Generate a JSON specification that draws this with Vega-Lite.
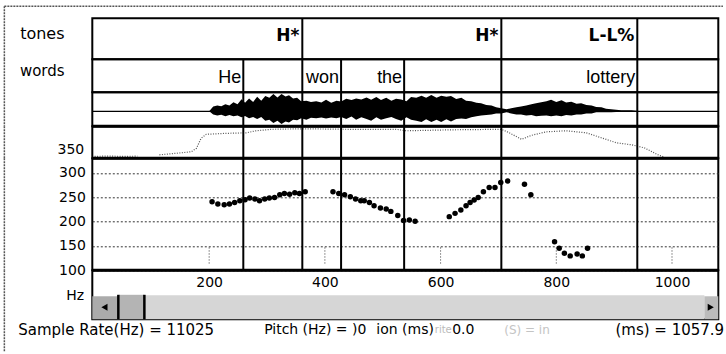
{
  "$schema": "https://vega.github.io/schema/vega-lite/v6.json",
  "autosize": {"type": "pad"},
  "padding": {"left": 2.3, "top": 4.3, "right": 0, "bottom": 0},
  "background": "white",
  "spacing": 0,
  "bounds": "flush",
  "config": {"view": {"stroke": "black", "strokeWidth": 2}},
  "datasets": {
    "tones": [{"t": 361, "label": "H*"}, {"t": 705, "label": "H*"}, {"t": 940, "label": "L-L%"}],
    "words": [{"t": 259, "label": "He"}, {"t": 361, "label": ""}, {"t": 428, "label": "won"}, {"t": 537, "label": "the"}, {"t": 705, "label": ""}, {"t": 940, "label": "lottery"}],
    "ticks": [{"t": 200}, {"t": 400}, {"t": 600}, {"t": 800}, {"t": 1000}],
    "pitch": [
      {"t": 205, "f0": 240.8}, {"t": 215, "f0": 236.1}, {"t": 226, "f0": 234.7}, {"t": 235, "f0": 236.1}, {"t": 244, "f0": 239.3}, {"t": 253, "f0": 242.8}, {"t": 262, "f0": 244.8}, {"t": 270, "f0": 248.3}, {"t": 279, "f0": 246.3}, {"t": 287, "f0": 242.8}, {"t": 296, "f0": 246.3}, {"t": 304, "f0": 248.3}, {"t": 313, "f0": 249.5}, {"t": 322, "f0": 255}, {"t": 330, "f0": 257.7}, {"t": 339, "f0": 256.4}, {"t": 348, "f0": 259.1}, {"t": 356, "f0": 257.7}, {"t": 366, "f0": 261.1},
      {"t": 414, "f0": 261.1}, {"t": 424, "f0": 257.7}, {"t": 434, "f0": 255}, {"t": 444, "f0": 251}, {"t": 453, "f0": 246.3}, {"t": 462, "f0": 242.8}, {"t": 468, "f0": 242.8}, {"t": 477, "f0": 239.3}, {"t": 485, "f0": 232.6}, {"t": 496, "f0": 228}, {"t": 506, "f0": 225.9}, {"t": 514, "f0": 221}, {"t": 526, "f0": 212.3}, {"t": 536, "f0": 202.1}, {"t": 546, "f0": 203.5}, {"t": 556, "f0": 200.7},
      {"t": 615, "f0": 210.2}, {"t": 625, "f0": 216.9}, {"t": 635, "f0": 223.9}, {"t": 644, "f0": 232.6}, {"t": 651, "f0": 239.3}, {"t": 658, "f0": 244.2}, {"t": 665, "f0": 249.5}, {"t": 674, "f0": 261.1}, {"t": 684, "f0": 269.9}, {"t": 694, "f0": 269.9}, {"t": 704, "f0": 280.1}, {"t": 716, "f0": 283.5}, {"t": 745, "f0": 276.8}, {"t": 756, "f0": 255},
      {"t": 797, "f0": 158.8}, {"t": 805, "f0": 145.3}, {"t": 814, "f0": 135.1}, {"t": 824, "f0": 129.6}, {"t": 836, "f0": 133.7}, {"t": 845, "f0": 129.6}, {"t": 854, "f0": 145.3}
    ],
    "intensity": [
      {"t": 2, "db": 33, "seg": "a"}, {"t": 25, "db": 33.5, "seg": "a"}, {"t": 50, "db": 33, "seg": "a"}, {"t": 76, "db": 33.3, "seg": "a"},
      {"t": 114, "db": 35.5, "seg": "b"}, {"t": 143, "db": 37.8, "seg": "b"}, {"t": 169, "db": 40.2, "seg": "b"}, {"t": 178, "db": 45.6, "seg": "b"}, {"t": 186, "db": 61.3, "seg": "b"}, {"t": 195, "db": 67.5, "seg": "b"}, {"t": 230, "db": 69, "seg": "b"}, {"t": 264, "db": 69.8, "seg": "b"}, {"t": 281, "db": 73, "seg": "b"}, {"t": 307, "db": 75.3, "seg": "b"}, {"t": 359, "db": 76.1, "seg": "b"}, {"t": 446, "db": 75.3, "seg": "b"}, {"t": 523, "db": 75.3, "seg": "b"}, {"t": 541, "db": 73, "seg": "b"}, {"t": 619, "db": 74.5, "seg": "b"}, {"t": 705, "db": 75.3, "seg": "b"}, {"t": 717, "db": 70.6, "seg": "b"}, {"t": 740, "db": 59.7, "seg": "b"}, {"t": 757, "db": 65.9, "seg": "b"}, {"t": 783, "db": 71.4, "seg": "b"}, {"t": 817, "db": 73, "seg": "b"}, {"t": 852, "db": 69.8, "seg": "b"}, {"t": 878, "db": 62, "seg": "b"}, {"t": 904, "db": 54.2, "seg": "b"}, {"t": 930, "db": 51.1, "seg": "b"}, {"t": 952, "db": 46.4, "seg": "b"}, {"t": 964, "db": 40.9, "seg": "b"}, {"t": 975, "db": 35.8, "seg": "b"}, {"t": 985, "db": 32.3, "seg": "b"}
    ],
    "wave": [
      {"t": 200, "hi": 0, "lo": 0}, {"t": 207, "hi": 0.29, "lo": -0.18}, {"t": 214, "hi": 0.35, "lo": -0.24}, {"t": 221, "hi": 0.3, "lo": -0.2}, {"t": 228, "hi": 0.41, "lo": -0.29}, {"t": 235, "hi": 0.35, "lo": -0.22}, {"t": 242, "hi": 0.53, "lo": -0.29}, {"t": 249, "hi": 0.41, "lo": -0.24}, {"t": 256, "hi": 0.71, "lo": -0.35}, {"t": 262, "hi": 0.5, "lo": -0.27}, {"t": 269, "hi": 0.76, "lo": -0.41}, {"t": 276, "hi": 0.55, "lo": -0.33}, {"t": 283, "hi": 0.86, "lo": -0.45}, {"t": 290, "hi": 0.62, "lo": -0.33}, {"t": 297, "hi": 0.9, "lo": -0.55}, {"t": 304, "hi": 0.8, "lo": -0.5}, {"t": 311, "hi": 1.02, "lo": -0.68}, {"t": 318, "hi": 0.82, "lo": -0.55}, {"t": 325, "hi": 1.02, "lo": -0.74}, {"t": 332, "hi": 0.88, "lo": -0.6}, {"t": 338, "hi": 0.94, "lo": -0.66}, {"t": 345, "hi": 0.76, "lo": -0.5}, {"t": 352, "hi": 0.8, "lo": -0.52}, {"t": 359, "hi": 0.6, "lo": -0.4}, {"t": 368, "hi": 0.62, "lo": -0.5}, {"t": 376, "hi": 0.55, "lo": -0.38}, {"t": 385, "hi": 0.6, "lo": -0.4}, {"t": 394, "hi": 0.52, "lo": -0.36}, {"t": 402, "hi": 0.68, "lo": -0.42}, {"t": 411, "hi": 0.5, "lo": -0.36}, {"t": 420, "hi": 0.62, "lo": -0.4}, {"t": 428, "hi": 0.58, "lo": -0.33}, {"t": 437, "hi": 0.74, "lo": -0.45}, {"t": 446, "hi": 0.66, "lo": -0.3}, {"t": 454, "hi": 0.76, "lo": -0.5}, {"t": 463, "hi": 0.7, "lo": -0.35}, {"t": 472, "hi": 0.82, "lo": -0.45}, {"t": 480, "hi": 0.68, "lo": -0.55}, {"t": 489, "hi": 0.84, "lo": -0.35}, {"t": 497, "hi": 0.66, "lo": -0.5}, {"t": 506, "hi": 0.8, "lo": -0.4}, {"t": 515, "hi": 0.62, "lo": -0.34}, {"t": 523, "hi": 0.74, "lo": -0.45}, {"t": 532, "hi": 0.7, "lo": -0.55}, {"t": 541, "hi": 0.6, "lo": -0.35}, {"t": 549, "hi": 0.85, "lo": -0.5}, {"t": 558, "hi": 0.8, "lo": -0.55}, {"t": 567, "hi": 0.92, "lo": -0.62}, {"t": 575, "hi": 0.8, "lo": -0.47}, {"t": 584, "hi": 0.96, "lo": -0.62}, {"t": 593, "hi": 0.8, "lo": -0.5}, {"t": 601, "hi": 0.92, "lo": -0.62}, {"t": 610, "hi": 0.86, "lo": -0.47}, {"t": 618, "hi": 0.9, "lo": -0.6}, {"t": 627, "hi": 0.72, "lo": -0.45}, {"t": 636, "hi": 0.8, "lo": -0.42}, {"t": 644, "hi": 0.62, "lo": -0.45}, {"t": 653, "hi": 0.6, "lo": -0.35}, {"t": 662, "hi": 0.5, "lo": -0.29}, {"t": 670, "hi": 0.47, "lo": -0.24}, {"t": 679, "hi": 0.38, "lo": -0.22}, {"t": 688, "hi": 0.35, "lo": -0.18}, {"t": 696, "hi": 0.24, "lo": -0.12}, {"t": 705, "hi": 0.18, "lo": -0.12}, {"t": 714, "hi": 0.12, "lo": -0.06}, {"t": 722, "hi": 0.18, "lo": -0.12}, {"t": 731, "hi": 0.24, "lo": -0.18}, {"t": 739, "hi": 0.29, "lo": -0.18}, {"t": 748, "hi": 0.35, "lo": -0.24}, {"t": 757, "hi": 0.41, "lo": -0.22}, {"t": 765, "hi": 0.47, "lo": -0.29}, {"t": 774, "hi": 0.53, "lo": -0.26}, {"t": 783, "hi": 0.59, "lo": -0.24}, {"t": 791, "hi": 0.68, "lo": -0.29}, {"t": 800, "hi": 0.55, "lo": -0.24}, {"t": 809, "hi": 0.65, "lo": -0.29}, {"t": 817, "hi": 0.52, "lo": -0.22}, {"t": 826, "hi": 0.56, "lo": -0.24}, {"t": 835, "hi": 0.45, "lo": -0.18}, {"t": 843, "hi": 0.47, "lo": -0.18}, {"t": 852, "hi": 0.38, "lo": -0.12}, {"t": 861, "hi": 0.35, "lo": -0.12}, {"t": 869, "hi": 0.26, "lo": -0.06}, {"t": 878, "hi": 0.24, "lo": -0.06}, {"t": 886, "hi": 0.15, "lo": -0.06}, {"t": 895, "hi": 0.12, "lo": -0.06}, {"t": 912, "hi": 0.06, "lo": -0.03}, {"t": 930, "hi": 0.06, "lo": -0.03}, {"t": 947, "hi": 0, "lo": 0}
    ]
  },
  "vconcat": [
    {
      "width": 626, "height": 41,
      "layer": [
        {"data": {"values": [{}]}, "mark": {"type": "rule", "color": "#555", "strokeWidth": 1.5, "strokeDash": [2, 1]},
         "encoding": {"x": {"datum": -154, "type": "quantitative", "scale": {"domain": [-2, 1080], "nice": false, "zero": false}, "axis": null},
                      "y": {"datum": 0, "type": "quantitative", "scale": {"domain": [0, 1], "nice": false, "zero": false}, "axis": null}, "y2": {"datum": 1.293}}},
        {"data": {"values": [{}]}, "mark": {"type": "rule", "color": "#555", "strokeWidth": 1.5, "strokeDash": [2, 1]},
         "encoding": {"x": {"datum": -154, "type": "quantitative", "scale": {"domain": [-2, 1080], "nice": false, "zero": false}, "axis": null}, "x2": {"datum": 1088},
                      "y": {"datum": 1.293, "type": "quantitative", "scale": {"domain": [0, 1], "nice": false, "zero": false}, "axis": null}}},
        {"data": {"values": [{"text": "tones"}]}, "mark": {"type": "text", "align": "right", "baseline": "alphabetic", "font": "DejaVu Sans", "fontSize": 16, "color": "black"},
         "encoding": {"x": {"datum": -50, "type": "quantitative", "scale": {"domain": [-2, 1080], "nice": false, "zero": false}, "axis": null},
                      "y": {"datum": 0.488, "type": "quantitative", "scale": {"domain": [0, 1], "nice": false, "zero": false}, "axis": null}, "text": {"field": "text"}}},
        {"data": {"name": "tones"}, "mark": {"type": "rule", "color": "black", "strokeWidth": 2},
         "encoding": {"x": {"field": "t", "type": "quantitative", "scale": {"domain": [-2, 1080], "nice": false, "zero": false}, "axis": null}}},
        {"data": {"name": "tones"}, "mark": {"type": "text", "align": "right", "baseline": "alphabetic", "dx": -3, "font": "DejaVu Sans", "fontWeight": "bold", "fontSize": 17, "color": "black"},
         "encoding": {"x": {"field": "t", "type": "quantitative", "scale": {"domain": [-2, 1080], "nice": false, "zero": false}, "axis": null},
                      "y": {"datum": 0.439, "type": "quantitative", "scale": {"domain": [0, 1], "nice": false, "zero": false}, "axis": null}, "text": {"field": "label"}}}
      ]
    },
    {
      "width": 626, "height": 33,
      "layer": [
        {"data": {"values": [{}]}, "mark": {"type": "rule", "color": "#555", "strokeWidth": 1.5, "strokeDash": [2, 1]},
         "encoding": {"x": {"datum": -154, "type": "quantitative", "scale": {"domain": [-2, 1080], "nice": false, "zero": false}, "axis": null}}},
        {"data": {"values": [{"text": "words"}]}, "mark": {"type": "text", "align": "right", "baseline": "alphabetic", "font": "DejaVu Sans", "fontSize": 15, "color": "black"},
         "encoding": {"x": {"datum": -50, "type": "quantitative", "scale": {"domain": [-2, 1080], "nice": false, "zero": false}, "axis": null},
                      "y": {"datum": 0.485, "type": "quantitative", "scale": {"domain": [0, 1], "nice": false, "zero": false}, "axis": null}, "text": {"field": "text"}}},
        {"data": {"name": "words"}, "mark": {"type": "rule", "color": "black", "strokeWidth": 2},
         "encoding": {"x": {"field": "t", "type": "quantitative", "scale": {"domain": [-2, 1080], "nice": false, "zero": false}, "axis": null}}},
        {"data": {"name": "words"}, "mark": {"type": "text", "align": "right", "baseline": "alphabetic", "dx": -2, "font": "Liberation Sans", "fontSize": 18, "color": "black"},
         "encoding": {"x": {"field": "t", "type": "quantitative", "scale": {"domain": [-2, 1080], "nice": false, "zero": false}, "axis": null},
                      "y": {"datum": 0.288, "type": "quantitative", "scale": {"domain": [0, 1], "nice": false, "zero": false}, "axis": null}, "text": {"field": "label"}}}
      ]
    },
    {
      "width": 626, "height": 34,
      "layer": [
        {"data": {"values": [{}]}, "mark": {"type": "rule", "color": "#555", "strokeWidth": 1.5, "strokeDash": [2, 1]},
         "encoding": {"x": {"datum": -154, "type": "quantitative", "scale": {"domain": [-2, 1080], "nice": false, "zero": false}, "axis": null}}},
        {"data": {"values": [{}]}, "mark": {"type": "rule", "color": "black", "strokeWidth": 1.2},
         "encoding": {"y": {"datum": 0, "type": "quantitative", "scale": {"domain": [-0.88, 1.12], "nice": false, "zero": false}, "axis": null}}},
        {"data": {"name": "wave"}, "mark": {"type": "area", "color": "black", "opacity": 1, "interpolate": "linear"},
         "encoding": {"x": {"field": "t", "type": "quantitative", "scale": {"domain": [-2, 1080], "nice": false, "zero": false}, "axis": null},
                      "y": {"field": "hi", "type": "quantitative", "scale": {"domain": [-0.88, 1.12], "nice": false, "zero": false}, "axis": null}, "y2": {"field": "lo"}}},
        {"data": {"name": "words"}, "mark": {"type": "rule", "color": "black", "strokeWidth": 2},
         "encoding": {"x": {"field": "t", "type": "quantitative", "scale": {"domain": [-2, 1080], "nice": false, "zero": false}, "axis": null}}}
      ]
    },
    {
      "width": 626, "height": 32,
      "layer": [
        {"data": {"values": [{}]}, "mark": {"type": "rule", "color": "#555", "strokeWidth": 1.5, "strokeDash": [2, 1]},
         "encoding": {"x": {"datum": -154, "type": "quantitative", "scale": {"domain": [-2, 1080], "nice": false, "zero": false}, "axis": null}}},
        {"data": {"values": [{}]}, "mark": {"type": "rule", "color": "black", "strokeWidth": 3},
         "encoding": {"y": {"datum": 80, "type": "quantitative", "scale": {"domain": [30, 80], "nice": false, "zero": false}, "axis": null}}},
        {"data": {"name": "intensity"}, "mark": {"type": "line", "color": "#555", "strokeWidth": 1.2, "strokeDash": [1, 1.5]},
         "encoding": {"x": {"field": "t", "type": "quantitative", "scale": {"domain": [-2, 1080], "nice": false, "zero": false}, "axis": null},
                      "y": {"field": "db", "type": "quantitative", "scale": {"domain": [30, 80], "nice": false, "zero": false}, "axis": null}, "detail": {"field": "seg"}}},
        {"data": {"name": "words"}, "mark": {"type": "rule", "color": "black", "strokeWidth": 2},
         "encoding": {"x": {"field": "t", "type": "quantitative", "scale": {"domain": [-2, 1080], "nice": false, "zero": false}, "axis": null}}},
        {"data": {"values": [{"text": "350"}]}, "mark": {"type": "text", "align": "right", "baseline": "middle", "font": "DejaVu Sans", "fontSize": 14, "color": "black"},
         "encoding": {"x": {"datum": -16, "type": "quantitative", "scale": {"domain": [-2, 1080], "nice": false, "zero": false}, "axis": null},
                      "y": {"datum": 42.5, "type": "quantitative", "scale": {"domain": [30, 80], "nice": false, "zero": false}, "axis": null}, "text": {"field": "text"}}}
      ]
    },
    {
      "width": 626, "height": 112,
      "layer": [
        {"data": {"values": [{}]}, "mark": {"type": "rule", "color": "#555", "strokeWidth": 1.5, "strokeDash": [2, 1]},
         "encoding": {"x": {"datum": -154, "type": "quantitative", "scale": {"domain": [-2, 1080], "nice": false, "zero": false},
                            "axis": {"values": [200, 400, 600, 800, 1000], "format": "d", "title": null, "ticks": false, "domain": false, "grid": false, "labelFont": "DejaVu Sans", "labelFontSize": 14, "labelColor": "black", "labelPadding": 5, "labelFlush": false}}}},
        {"data": {"name": "ticks"}, "mark": {"type": "rule", "color": "#333", "strokeWidth": 1, "strokeDash": [1, 2]},
         "encoding": {"x": {"field": "t", "type": "quantitative", "scale": {"domain": [-2, 1080], "nice": false, "zero": false},
                            "axis": {"values": [200, 400, 600, 800, 1000], "format": "d", "title": null, "ticks": false, "domain": false, "grid": false, "labelFont": "DejaVu Sans", "labelFontSize": 14, "labelColor": "black", "labelPadding": 5, "labelFlush": false}},
                      "y": {"datum": 114, "type": "quantitative", "scale": {"domain": [100, 330], "nice": false, "zero": false},
                            "axis": {"values": [100, 150, 200, 250, 300], "title": null, "ticks": false, "domain": false, "grid": true, "gridDash": [2, 2], "gridColor": "#333", "gridWidth": 1, "labelFont": "DejaVu Sans", "labelFontSize": 14, "labelColor": "black", "labelPadding": 7}},
                      "y2": {"datum": 147}}},
        {"data": {"name": "words"}, "mark": {"type": "rule", "color": "black", "strokeWidth": 2},
         "encoding": {"x": {"field": "t", "type": "quantitative", "scale": {"domain": [-2, 1080], "nice": false, "zero": false},
                            "axis": {"values": [200, 400, 600, 800, 1000], "format": "d", "title": null, "ticks": false, "domain": false, "grid": false, "labelFont": "DejaVu Sans", "labelFontSize": 14, "labelColor": "black", "labelPadding": 5, "labelFlush": false}}}},
        {"data": {"values": [{"b": 100}, {"b": 330}]}, "mark": {"type": "rule", "color": "black", "strokeWidth": 3},
         "encoding": {"y": {"field": "b", "type": "quantitative", "scale": {"domain": [100, 330], "nice": false, "zero": false},
                            "axis": {"values": [100, 150, 200, 250, 300], "title": null, "ticks": false, "domain": false, "grid": true, "gridDash": [2, 2], "gridColor": "#333", "gridWidth": 1, "labelFont": "DejaVu Sans", "labelFontSize": 14, "labelColor": "black", "labelPadding": 7}}}},
        {"data": {"name": "pitch"}, "mark": {"type": "circle", "color": "black", "opacity": 1, "size": 30},
         "encoding": {
           "x": {"field": "t", "type": "quantitative", "scale": {"domain": [-2, 1080], "nice": false, "zero": false},
                 "axis": {"values": [200, 400, 600, 800, 1000], "format": "d", "title": null, "ticks": false, "domain": false, "grid": false, "labelFont": "DejaVu Sans", "labelFontSize": 14, "labelColor": "black", "labelPadding": 5, "labelFlush": false}},
           "y": {"field": "f0", "type": "quantitative", "scale": {"domain": [100, 330], "nice": false, "zero": false},
                 "axis": {"values": [100, 150, 200, 250, 300], "title": null, "ticks": false, "domain": false, "grid": true, "gridDash": [2, 2], "gridColor": "#333", "gridWidth": 1, "labelFont": "DejaVu Sans", "labelFontSize": 14, "labelColor": "black", "labelPadding": 7}}}}
      ]
    },
    {
      "width": 626, "height": 49,
      "layer": [
        {"data": {"values": [{}]}, "mark": {"type": "rule", "color": "#555", "strokeWidth": 1.5, "strokeDash": [2, 1]},
         "encoding": {"x": {"datum": -154, "type": "quantitative", "scale": {"domain": [-2, 1080], "nice": false, "zero": false}, "axis": null}}},
        {"data": {"values": [{"part": "track"}]}, "mark": {"type": "rect", "color": "#d6d6d6"},
         "encoding": {"x": {"datum": 88, "type": "quantitative", "scale": {"domain": [-2, 1080], "nice": false, "zero": false}, "axis": null}, "x2": {"datum": 1056},
                      "y": {"datum": 0, "type": "quantitative", "scale": {"domain": [0, 1], "nice": false, "zero": false}, "axis": null}, "y2": {"datum": 0.49}}},
        {"data": {"values": [{"part": "left button"}]}, "mark": {"type": "rect", "color": "#ababab"},
         "encoding": {"x": {"datum": -2, "type": "quantitative", "scale": {"domain": [-2, 1080], "nice": false, "zero": false}, "axis": null}, "x2": {"datum": 43},
                      "y": {"datum": 0, "type": "quantitative", "scale": {"domain": [0, 1], "nice": false, "zero": false}, "axis": null}, "y2": {"datum": 0.47}}},
        {"data": {"values": [{"part": "thumb"}]}, "mark": {"type": "rect", "color": "#b4b4b4"},
         "encoding": {"x": {"datum": 43, "type": "quantitative", "scale": {"domain": [-2, 1080], "nice": false, "zero": false}, "axis": null}, "x2": {"datum": 88},
                      "y": {"datum": 0, "type": "quantitative", "scale": {"domain": [0, 1], "nice": false, "zero": false}, "axis": null}, "y2": {"datum": 0.5}}},
        {"data": {"values": [{"part": "right button"}]}, "mark": {"type": "rect", "color": "#bcbcbc"},
         "encoding": {"x": {"datum": 1056, "type": "quantitative", "scale": {"domain": [-2, 1080], "nice": false, "zero": false}, "axis": null}, "x2": {"datum": 1080},
                      "y": {"datum": 0, "type": "quantitative", "scale": {"domain": [0, 1], "nice": false, "zero": false}, "axis": null}, "y2": {"datum": 0.47}}},
        {"data": {"values": [{"edge": 43}, {"edge": 88}]}, "mark": {"type": "rule", "color": "black", "strokeWidth": 2.5},
         "encoding": {"x": {"field": "edge", "type": "quantitative", "scale": {"domain": [-2, 1080], "nice": false, "zero": false}, "axis": null},
                      "y": {"datum": 0, "type": "quantitative", "scale": {"domain": [0, 1], "nice": false, "zero": false}, "axis": null}, "y2": {"datum": 0.5}}},
        {"data": {"values": [{"arrow": "left"}]}, "mark": {"type": "point", "shape": "triangle-left", "filled": true, "color": "black", "opacity": 1, "size": 50},
         "encoding": {"x": {"datum": 19, "type": "quantitative", "scale": {"domain": [-2, 1080], "nice": false, "zero": false}, "axis": null},
                      "y": {"datum": 0.245, "type": "quantitative", "scale": {"domain": [0, 1], "nice": false, "zero": false}, "axis": null}}},
        {"data": {"values": [{"arrow": "right"}]}, "mark": {"type": "point", "shape": "triangle-right", "filled": true, "color": "black", "opacity": 1, "size": 50},
         "encoding": {"x": {"datum": 1067, "type": "quantitative", "scale": {"domain": [-2, 1080], "nice": false, "zero": false}, "axis": null},
                      "y": {"datum": 0.245, "type": "quantitative", "scale": {"domain": [0, 1], "nice": false, "zero": false}, "axis": null}}},
        {"data": {"values": [{"text": "Hz"}]}, "mark": {"type": "text", "align": "right", "baseline": "middle", "font": "DejaVu Sans", "fontSize": 14, "color": "black"},
         "encoding": {"x": {"datum": -16, "type": "quantitative", "scale": {"domain": [-2, 1080], "nice": false, "zero": false}, "axis": null},
                      "y": {"datum": 0.47, "type": "quantitative", "scale": {"domain": [0, 1], "nice": false, "zero": false}, "axis": null}, "text": {"field": "text"}}}
      ]
    },
    {
      "width": 626, "height": 32,
      "view": {"stroke": null},
      "layer": [
        {"data": {"values": [{}]}, "mark": {"type": "rule", "color": "#555", "strokeWidth": 1.5, "strokeDash": [2, 1]},
         "encoding": {"x": {"datum": -154, "type": "quantitative", "scale": {"domain": [-2, 1080], "nice": false, "zero": false}, "axis": null}}},
        {"data": {"values": [{"text": "Sample Rate(Hz) = 11025"}]}, "mark": {"type": "text", "align": "left", "baseline": "middle", "font": "DejaVu Sans", "fontSize": 15, "color": "black"},
         "encoding": {"x": {"datum": -130, "type": "quantitative", "scale": {"domain": [-2, 1080], "nice": false, "zero": false}, "axis": null},
                      "y": {"datum": 0.656, "type": "quantitative", "scale": {"domain": [0, 1], "nice": false, "zero": false}, "axis": null}, "text": {"field": "text"}}},
        {"data": {"values": [{"text": "Pitch (Hz) = )0"}]}, "mark": {"type": "text", "align": "left", "baseline": "middle", "font": "DejaVu Sans", "fontSize": 14, "color": "black"},
         "encoding": {"x": {"datum": 295, "type": "quantitative", "scale": {"domain": [-2, 1080], "nice": false, "zero": false}, "axis": null},
                      "y": {"datum": 0.656, "type": "quantitative", "scale": {"domain": [0, 1], "nice": false, "zero": false}, "axis": null}, "text": {"field": "text"}}},
        {"data": {"values": [{"text": "ion (ms)"}]}, "mark": {"type": "text", "align": "left", "baseline": "middle", "font": "DejaVu Sans", "fontSize": 14, "color": "black"},
         "encoding": {"x": {"datum": 489, "type": "quantitative", "scale": {"domain": [-2, 1080], "nice": false, "zero": false}, "axis": null},
                      "y": {"datum": 0.656, "type": "quantitative", "scale": {"domain": [0, 1], "nice": false, "zero": false}, "axis": null}, "text": {"field": "text"}}},
        {"data": {"values": [{"text": "rite"}]}, "mark": {"type": "text", "align": "left", "baseline": "middle", "font": "DejaVu Sans", "fontSize": 10, "color": "#bbbbbb"},
         "encoding": {"x": {"datum": 590, "type": "quantitative", "scale": {"domain": [-2, 1080], "nice": false, "zero": false}, "axis": null},
                      "y": {"datum": 0.656, "type": "quantitative", "scale": {"domain": [0, 1], "nice": false, "zero": false}, "axis": null}, "text": {"field": "text"}}},
        {"data": {"values": [{"text": "0.0"}]}, "mark": {"type": "text", "align": "left", "baseline": "middle", "font": "DejaVu Sans", "fontSize": 14, "color": "black"},
         "encoding": {"x": {"datum": 620, "type": "quantitative", "scale": {"domain": [-2, 1080], "nice": false, "zero": false}, "axis": null},
                      "y": {"datum": 0.656, "type": "quantitative", "scale": {"domain": [0, 1], "nice": false, "zero": false}, "axis": null}, "text": {"field": "text"}}},
        {"data": {"values": [{"text": "(S) = in"}]}, "mark": {"type": "text", "align": "left", "baseline": "middle", "font": "DejaVu Sans", "fontSize": 12, "color": "#c4c4c4"},
         "encoding": {"x": {"datum": 710, "type": "quantitative", "scale": {"domain": [-2, 1080], "nice": false, "zero": false}, "axis": null},
                      "y": {"datum": 0.656, "type": "quantitative", "scale": {"domain": [0, 1], "nice": false, "zero": false}, "axis": null}, "text": {"field": "text"}}},
        {"data": {"values": [{"text": "(ms) = 1057.9"}]}, "mark": {"type": "text", "align": "right", "baseline": "middle", "font": "DejaVu Sans", "fontSize": 15, "color": "black"},
         "encoding": {"x": {"datum": 1090, "type": "quantitative", "scale": {"domain": [-2, 1080], "nice": false, "zero": false}, "axis": null},
                      "y": {"datum": 0.656, "type": "quantitative", "scale": {"domain": [0, 1], "nice": false, "zero": false}, "axis": null}, "text": {"field": "text"}}}
      ]
    }
  ]
}
